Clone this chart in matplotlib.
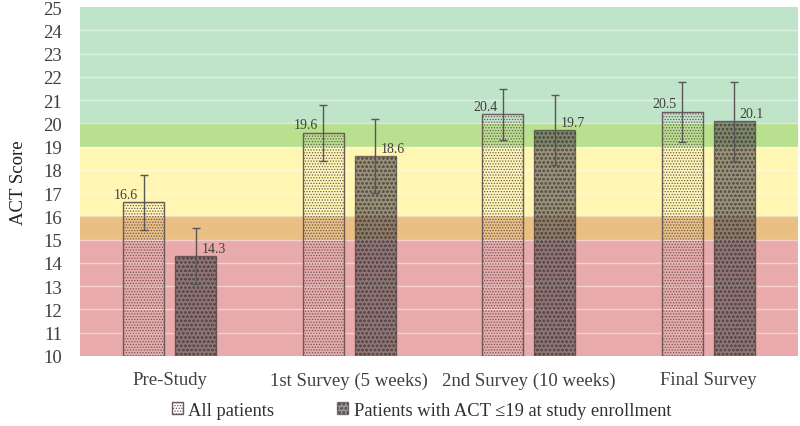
import numpy as np
import matplotlib
matplotlib.use("Agg")
from matplotlib import pyplot as plt

categories = ["Pre-Study", "1st Survey (5 weeks)", "2nd Survey (10 weeks)", "Final Survey"]
all_patients = [16.6, 19.6, 20.4, 20.5]
all_err = [1.2, 1.2, 1.1, 1.3]
low_act = [14.3, 18.6, 19.7, 20.1]
low_err = [1.2, 1.6, 1.5, 1.7]
series_names = ["All patients", "Patients with ACT \u226419 at study enrollment"]

# score bands (low, high, colour)
bands = [(10, 15, "#e8aaab"), (15, 16, "#e9bf83"), (16, 19, "#fff6b4"),
         (19, 20, "#b9e08f"), (20, 25, "#c0e4c9")]

plt.rcParams["font.family"] = ["Liberation Serif", "DejaVu Serif"]
plt.rcParams["hatch.linewidth"] = 0.6

fig = plt.figure(figsize=(8, 4.27), dpi=100)
ax = fig.add_axes([0.1, 0.164, 0.8975, 0.817])

for lo, hi, c in bands:
    ax.axhspan(lo, hi, color=c, zorder=0, lw=0)
for y in range(11, 25):
    ax.axhline(y, color="white", alpha=0.45, lw=1, zorder=1)

x = np.arange(len(categories))
w = 0.23
off = 0.145
plt.rcParams["hatch.color"] = "#8a8080"
b1 = ax.bar(x - off, all_patients, w, fill=False, hatch="......",
            edgecolor="#6a5a5a", lw=1, zorder=2, label=series_names[0])
b2 = ax.bar(x + off, low_act, w, color="#5a5252", alpha=0.62, hatch="oooo",
            edgecolor="#3a3535", lw=1, zorder=2, label=series_names[1])
ax.errorbar(x - off, all_patients, yerr=all_err, fmt="none", ecolor="#5a5555",
            elinewidth=1, capsize=3, capthick=1, zorder=3)
ax.errorbar(x + off, low_act, yerr=low_err, fmt="none", ecolor="#5a5555",
            elinewidth=1, capsize=3, capthick=1, zorder=3)

for xi, v in zip(x - off, all_patients):
    ax.annotate(f"{v}", (xi, v), xytext=(-4, 1), textcoords="offset points",
                ha="right", va="bottom", fontsize=10, color="#404040", zorder=4)
for xi, v in zip(x + off, low_act):
    ax.annotate(f"{v}", (xi, v), xytext=(4, 1), textcoords="offset points",
                ha="left", va="bottom", fontsize=10, color="#404040", zorder=4)

ax.set_ylim(10, 25)
ax.set_xlim(-0.5, 3.5)
ax.set_yticks(range(10, 26))
ax.set_xticks(x)
ax.set_xticklabels(categories)
ax.tick_params(axis="both", length=0, labelsize=13.5, colors="#404040")
ax.tick_params(axis="y", pad=13)
ax.tick_params(axis="x", pad=11)
for s in ax.spines.values():
    s.set_visible(False)
ax.set_ylabel("ACT Score", fontsize=13.5, color="#202020", labelpad=12)

fig.legend(handles=[b1, b2], loc="center", bbox_to_anchor=(0.527, 0.037), ncol=2,
           frameon=False, fontsize=13.3, handlelength=0.6, handleheight=0.6,
           handletextpad=0.3, columnspacing=3.4, labelcolor="#303030")

fig.savefig("out.png", dpi=100)
